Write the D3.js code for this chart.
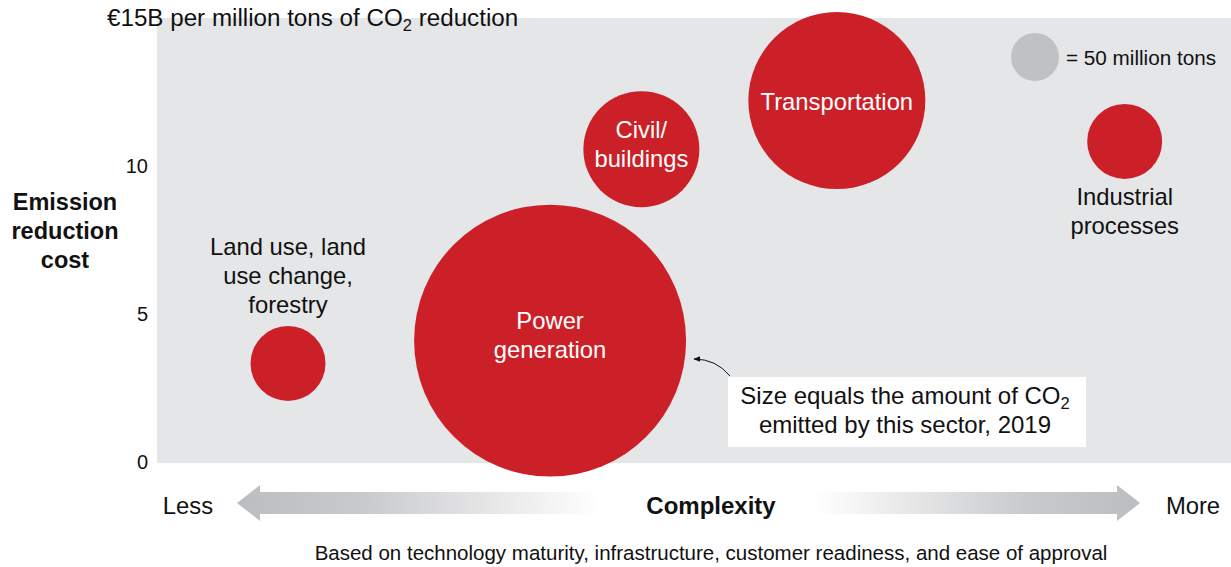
<!DOCTYPE html>
<html>
<head>
<meta charset="utf-8">
<script src="https://cdn.jsdelivr.net/npm/d3@7"></script>
<style>
  html, body { margin: 0; padding: 0; background: #fff; }
  svg { display: block; font-family: "Liberation Sans", Arial, sans-serif; }
</style>
</head>
<body>
<svg id="chart" width="1231" height="567"></svg>
<script>
// ---- data ----
const sectors = ["Land use, land use change, forestry", "Power generation", "Civil/ buildings", "Transportation", "Industrial processes"];
const complexity = [1.22, 3.66, 4.51, 6.33, 9.01];          // position along complexity axis (0-10)
const cost = [3.33, 4.1, 10.57, 12.21, 10.83];              // € B per million tons CO2 reduction
const emissions = [122, 1605, 292, 680, 122];               // million tons CO2, 2019
const labelLines = [
  ["Land use, land", "use change,", "forestry"],
  ["Power", "generation"],
  ["Civil/", "buildings"],
  ["Transportation"],
  ["Industrial", "processes"]
];
const yTicks = [0, 5, 10];
const legendValue = 50;

// ---- layout ----
const svg = d3.select("#chart");
const plot = { left: 157, right: 1231, top: 18, bottom: 463 };
const red = "#cc2029";
const bg = "#e5e6e8";
const FS = 23.8;

const x = d3.scaleLinear().domain([0, 10]).range([plot.left, plot.right]);
const y = d3.scaleLinear().domain([0, 15]).range([462, 18]);
const r = d3.scaleSqrt().domain([0, legendValue]).range([0, 24]);

// background
svg.append("rect").attr("x", plot.left).attr("y", plot.top)
  .attr("width", plot.right - plot.left).attr("height", plot.bottom - plot.top)
  .attr("fill", bg);

// y axis (labels only)
const yAxis = d3.axisLeft(y).tickValues(yTicks).tickSize(0).tickPadding(0);
const gy = svg.append("g").attr("transform", "translate(148,0)").call(yAxis);
gy.select(".domain").remove();
gy.selectAll("text").attr("font-size", 20).attr("fill", "#111")
  .attr("font-family", "Liberation Sans, Arial, sans-serif");

// top tick label (15)
const topLbl = svg.append("text").attr("x", 107).attr("y", y(15) + 8)
  .attr("font-size", 24.2).attr("fill", "#111");
topLbl.append("tspan").text("€15B per million tons of CO");
topLbl.append("tspan").attr("font-size", 16.5).attr("dy", 5).text("2");
topLbl.append("tspan").attr("dy", -5).text(" reduction");

// y title
const yTitle = ["Emission", "reduction", "cost"];
svg.append("g").selectAll("text").data(yTitle).join("text")
  .attr("x", 65).attr("y", (d, i) => 202 + i * 29).attr("dy", "0.35em")
  .attr("text-anchor", "middle").attr("font-weight", "bold")
  .attr("font-size", 23.5).attr("fill", "#111").text(d => d);

// bubbles
const data = sectors.map((s, i) => ({ s, cx: complexity[i], cy: cost[i], v: emissions[i], lines: labelLines[i] }));
svg.append("g").selectAll("circle").data(data).join("circle")
  .attr("cx", d => x(d.cx)).attr("cy", d => y(d.cy)).attr("r", d => r(d.v))
  .attr("fill", red);

// labels
const placement = ["above", "inside", "inside", "inside", "below"];
const lineH = 29;
data.forEach((d, i) => {
  const cx = x(d.cx), cy = y(d.cy), rr = r(d.v), n = d.lines.length;
  let firstY, color;
  if (placement[i] === "inside") {
    const centerOffset = n > 1 ? -5 : 1;
    firstY = cy + centerOffset - (n - 1) * lineH / 2;
    color = "#fff";
  } else if (placement[i] === "above") {
    firstY = cy - rr - 21 - (n - 1) * lineH;
    color = "#111";
  } else {
    firstY = cy + rr + 18;
    color = "#111";
  }
  svg.append("g").selectAll("text").data(d.lines).join("text")
    .attr("x", cx).attr("y", (t, j) => firstY + j * lineH).attr("dy", "0.35em")
    .attr("text-anchor", "middle").attr("font-size", FS).attr("fill", color).text(t => t);
});

// size legend
svg.append("circle").attr("cx", 1035).attr("cy", 57).attr("r", r(legendValue)).attr("fill", "#c0c1c3");
svg.append("text").attr("x", 1066).attr("y", 58).attr("dy", "0.35em")
  .attr("font-size", 20.7).attr("fill", "#111").text("= " + legendValue + " million tons");

// annotation box
svg.append("rect").attr("x", 728).attr("y", 377).attr("width", 358).attr("height", 70).attr("fill", "#fff");
const ann = svg.append("g").attr("font-size", 24).attr("fill", "#111").attr("text-anchor", "middle");
const a1 = ann.append("text").attr("x", 905).attr("y", 396).attr("dy", "0.35em");
a1.append("tspan").text("Size equals the amount of CO");
a1.append("tspan").attr("font-size", 16.5).attr("dy", 5).text("2");
ann.append("text").attr("x", 905).attr("y", 425).attr("dy", "0.35em").text("emitted by this sector, 2019");

const defs = svg.append("defs");
defs.append("marker").attr("id", "ah").attr("viewBox", "0 0 10 10").attr("refX", 9).attr("refY", 5)
  .attr("markerWidth", 7).attr("markerHeight", 7).attr("orient", "auto")
  .append("path").attr("d", "M0,1 L10,5 L0,9 Z").attr("fill", "#111");
svg.append("path").attr("d", "M730,376 Q716,359 694,359")
  .attr("fill", "none").attr("stroke", "#111").attr("stroke-width", 1)
  .attr("marker-end", "url(#ah)");

// complexity arrows
const gL = defs.append("linearGradient").attr("id", "gl").attr("x1", "0").attr("x2", "1").attr("y1", "0").attr("y2", "0");
gL.append("stop").attr("offset", "0").attr("stop-color", "#bcbdbf");
gL.append("stop").attr("offset", "0.35").attr("stop-color", "#c9cacc");
gL.append("stop").attr("offset", "1").attr("stop-color", "#ffffff");
const gR = defs.append("linearGradient").attr("id", "gr").attr("x1", "0").attr("x2", "1").attr("y1", "0").attr("y2", "0");
gR.append("stop").attr("offset", "0").attr("stop-color", "#ffffff");
gR.append("stop").attr("offset", "0.65").attr("stop-color", "#c9cacc");
gR.append("stop").attr("offset", "1").attr("stop-color", "#bcbdbf");

const ay = 503;
const leftArrow = [[237, ay], [260, ay - 18], [260, ay - 11], [600, ay - 11], [600, ay + 11], [260, ay + 11], [260, ay + 18]];
const rightArrow = [[815, ay - 11], [1117, ay - 11], [1117, ay - 18], [1140, ay], [1117, ay + 18], [1117, ay + 11], [815, ay + 11]];
const line = d3.line();
svg.append("path").attr("d", line(leftArrow) + "Z").attr("fill", "url(#gl)");
svg.append("path").attr("d", line(rightArrow) + "Z").attr("fill", "url(#gr)");

svg.append("text").attr("x", 188).attr("y", 506).attr("dy", "0.35em").attr("text-anchor", "middle")
  .attr("font-size", FS).attr("fill", "#111").text("Less");
svg.append("text").attr("x", 1193).attr("y", 506).attr("dy", "0.35em").attr("text-anchor", "middle")
  .attr("font-size", FS).attr("fill", "#111").text("More");
svg.append("text").attr("x", 711).attr("y", 506).attr("dy", "0.35em").attr("text-anchor", "middle")
  .attr("font-size", 24).attr("font-weight", "bold").attr("fill", "#111").text("Complexity");
svg.append("text").attr("x", 711).attr("y", 553).attr("dy", "0.35em").attr("text-anchor", "middle")
  .attr("font-size", 20.5).attr("fill", "#111")
  .text("Based on technology maturity, infrastructure, customer readiness, and ease of approval");
</script>
</body>
</html>
